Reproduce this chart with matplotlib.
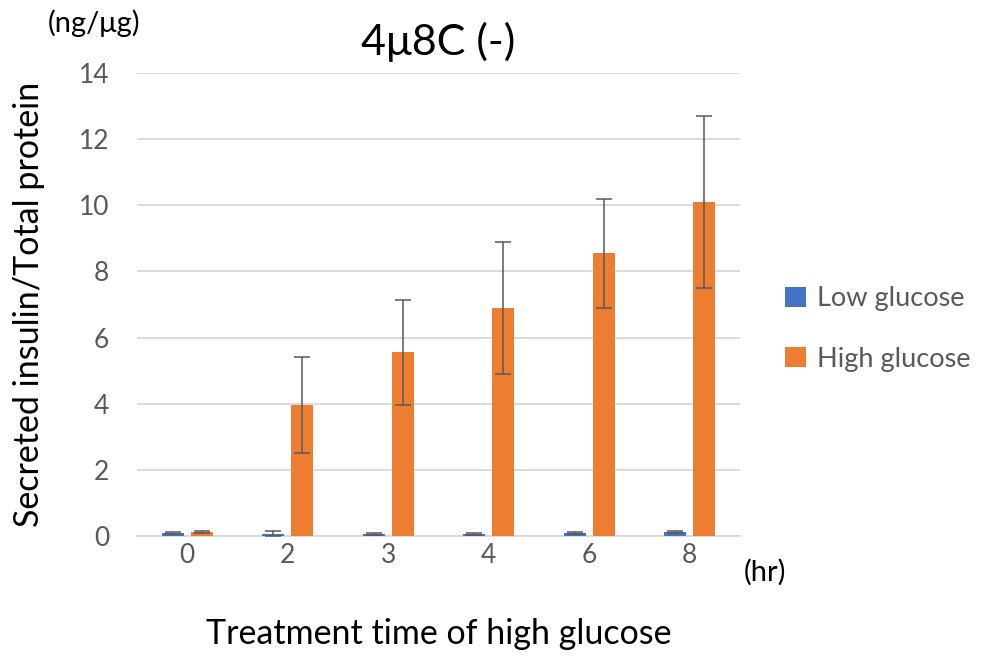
import numpy as np
import matplotlib.pyplot as plt

plt.rcParams['font.family'] = ['Lato', 'DejaVu Sans']

# data
hours = ['0', '2', '3', '4', '6', '8']
low_glucose = [0.08, 0.07, 0.06, 0.06, 0.09, 0.12]
low_err = [0.03, 0.07, 0.04, 0.03, 0.03, 0.03]
high_glucose = [0.12, 3.95, 5.55, 6.9, 8.55, 10.1]
high_err = [0.03, 1.45, 1.6, 2.0, 1.65, 2.6]

blue = '#4472C4'
orange = '#ED7D31'
grey = '#595959'

fig = plt.figure(figsize=(9.88, 6.58), dpi=100)
ax = fig.add_axes([0.1387, 0.1854, 0.6103, 0.7036])

x = np.arange(len(hours))
w = 0.22
err_kw = dict(ecolor=grey, elinewidth=1.1, capsize=5.8, capthick=1.1)
ax.bar(x - 0.145, low_glucose, w, yerr=low_err, color=blue,
       label='Low glucose', error_kw=err_kw, zorder=3)
ax.bar(x + 0.145, high_glucose, w, yerr=high_err, color=orange,
       label='High glucose', error_kw=err_kw, zorder=3)

ax.set_xlim(-0.5, len(hours) - 0.5)
ax.set_ylim(0, 14)
ax.set_yticks(range(0, 15, 2))
ax.set_xticks(x)
ax.set_xticklabels(hours)
ax.tick_params(length=0, labelsize=19, colors=grey)
ax.tick_params(axis='y', pad=20)
ax.tick_params(axis='x', pad=5)
ax.grid(axis='y', color='#D9D9D9', linewidth=1.3, zorder=0)
for s in ['top', 'right', 'left']:
    ax.spines[s].set_visible(False)
ax.spines['bottom'].set_color('#D9D9D9')
ax.spines['bottom'].set_linewidth(1.3)

ax.set_title('4μ8C (-)', fontsize=31, pad=13)
ax.set_ylabel('Secreted insulin/Total protein', fontsize=24.5, labelpad=24)
ax.set_xlabel('Treatment time of high glucose', fontsize=24.5, labelpad=36)

fig.text(0.048, 0.964, '(ng/μg)', fontsize=21, va='center')
fig.text(0.753, 0.130, '(hr)', fontsize=21, va='center')

ax.legend(loc='center left', bbox_to_anchor=(1.035, 0.447), frameon=False,
          fontsize=19.5, labelcolor=grey, handlelength=0.75, handleheight=0.75,
          labelspacing=1.3, handletextpad=0.4)

fig.savefig('out.png', dpi=100)
